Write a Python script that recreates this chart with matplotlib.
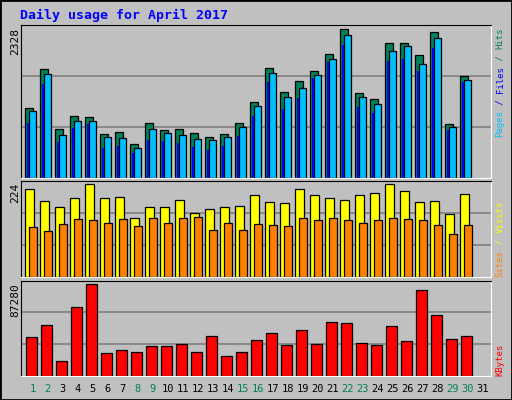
import matplotlib
matplotlib.use("Agg")
import matplotlib.pyplot as plt
from matplotlib.patches import Rectangle
import numpy as np

days = list(range(1, 32))
weekend_days = [1, 2, 8, 9, 15, 16, 22, 23, 29, 30]

hits = [1096, 1712, 764, 969, 953, 685, 716, 527, 859, 748, 764, 701, 637, 685, 859,
        1190, 1728, 1348, 1522, 1680, 1933, 2328, 1333, 1238, 2107, 2107, 1917, 2281, 843, 1601]
files = [1048, 1633, 669, 890, 890, 637, 622, 463, 764, 701, 669, 606, 590, 637, 795,
         1127, 1649, 1269, 1412, 1617, 1854, 2233, 1269, 1159, 1980, 2059, 1791, 2186, 795, 1538]
pages = [859, 1475, 558, 780, 843, 463, 495, 385, 590, 574, 543, 479, 432, 495, 653,
         969, 1506, 1080, 1254, 1570, 1807, 2075, 1111, 1017, 1838, 1854, 1680, 2028, 748, 1506]
visits = [212, 183, 168, 190, 224, 190, 192, 141, 168, 168, 185, 153, 163, 168, 170,
          197, 180, 178, 212, 197, 190, 185, 197, 202, 224, 207, 180, 183, 151, 200]
sites = [119, 110, 127, 139, 136, 129, 139, 122, 141, 131, 141, 144, 114, 129, 112,
         127, 124, 122, 141, 136, 141, 136, 131, 136, 141, 139, 136, 124, 102, 124]
kbytes = [36446, 47955, 13427, 65219, 87280, 21100, 23978, 22059, 27814, 27814, 29732, 22059,
          37405, 18223, 22059, 33569, 40282, 28773, 43160, 29732, 50832, 49874, 30691, 28773,
          46996, 32609, 81524, 57546, 34528, 37405]

W, H = 512, 400
BG = "#C0C0C0"
GREEN = "#00805C"

fig = plt.figure(figsize=(W / 100, H / 100), dpi=100, facecolor=BG)
fig.patches.append(Rectangle((0, 0), 1, 1, transform=fig.transFigure, fill=False,
                             edgecolor="black", linewidth=2))

def px_axes(x0, y0, x1, y1):
    ax = fig.add_axes([x0 / W, 1 - y1 / H, (x1 - x0) / W, (y1 - y0) / H])
    ax.set_facecolor(BG)
    ax.set_xlim(x0, x1)
    ax.set_xticks([])
    ax.set_yticks([])
    for s in ["top", "left"]:
        ax.spines[s].set_color("black")
    for s in ["bottom", "right"]:
        ax.spines[s].set_color("white")
    return ax

def grid(ax, top):
    for f in (1 / 3, 2 / 3):
        ax.axhline(top * f, color="#808080", linewidth=1.2, zorder=0)

left = np.array([25.3 + 15 * (d - 1) for d in days[:30]])
kw = dict(align="edge", edgecolor="black", linewidth=0.9)

# top panel: hits / files / pages
ax1 = px_axes(20.7, 25, 490.7, 177.5)
top1 = 2396
ax1.set_ylim(0, top1)
grid(ax1, top1)
ax1.bar(left, hits, 8, color=GREEN, **kw)
ax1.bar(left + 4, files, 7, color="#00C0FF", **kw)
ax1.bar(left + 1.5, pages, 2, color="#0000FF", align="edge", linewidth=0)

# middle panel: visits / sites
ax2 = px_axes(20.7, 180.5, 490.7, 276.5)
top2 = 233
ax2.set_ylim(0, top2)
grid(ax2, top2)
ax2.bar(left, visits, 8.4, color="#FFFF00", **kw)
ax2.bar(left + 4, sites, 7.4, color="#FF8000", **kw)

# bottom panel: kbytes
ax3 = px_axes(20.7, 280.5, 490.7, 375.5)
top3 = 90800
ax3.set_ylim(0, top3)
grid(ax3, top3)
ax3.bar(left + 1, kbytes, 10.4, color="#FF0000", **kw)

mono = "DejaVu Sans Mono"
fig.text(20 / W, 1 - 15 / H, "Daily usage for April 2017", color="#0000FF",
         family=mono, weight="bold", fontsize=9.5, va="center")

for y, lab in [(28, "2328"), (183, "224"), (283, "87280")]:
    fig.text(15 / W, 1 - y / H, lab, rotation=90, family=mono, fontsize=8,
             ha="center", va="top")

def right_label(y_bottom, parts):
    # stack coloured pieces bottom-to-top, one mono char ~5.5 px
    y = y_bottom
    for txt, col in parts:
        fig.text(500 / W, 1 - y / H, txt, rotation=90, color=col, family=mono,
                 fontsize=6.5, ha="center", va="bottom")
        y -= 5.5 * len(txt)

right_label(137, [("Pages", "#00C0FF"), (" / ", "#0000FF"), ("Files", "#0000FF"),
                  (" / ", GREEN), ("Hits", GREEN)])
right_label(277, [("Sites", "#FF8000"), (" / ", "#FFFF00"), ("Visits", "#FFFF00")])
right_label(376, [("KBytes", "#FF0000")])

for d in days:
    col = GREEN if d in weekend_days else "black"
    fig.text((25.3 + 15 * (d - 1) + 7.5) / W, 1 - 389 / H, str(d), color=col,
             family=mono, fontsize=7.5, ha="center", va="center")

fig.savefig("out.png", dpi=100, facecolor=BG)
